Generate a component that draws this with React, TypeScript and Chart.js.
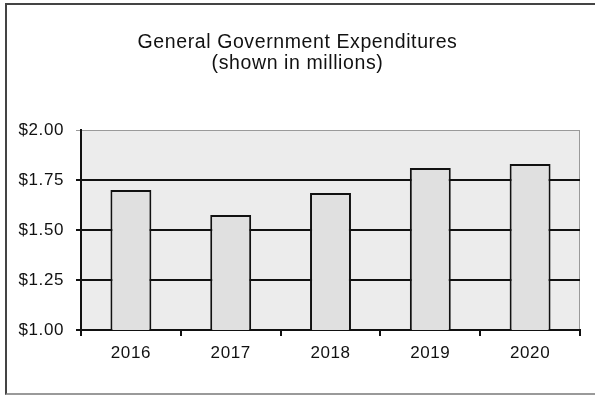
import React, { useEffect, useRef } from "react";
import { Chart, registerables } from "chart.js";

Chart.register(...registerables);

const categories = ["2016", "2017", "2018", "2019", "2020"];
const expenditures = [1.7, 1.575, 1.685, 1.81, 1.83];
const yTickValues = [1.0, 1.25, 1.5, 1.75, 2.0];
const titleLines = ["General Government Expenditures", "(shown in millions)"];

const FONT = "'Liberation Sans', Arial, sans-serif";

const plotBackground = {
  id: "plotBackground",
  beforeDraw(chart: any) {
    const { ctx, chartArea } = chart;
    if (!chartArea) return;
    const { left, top, right, bottom } = chartArea;
    ctx.save();
    ctx.fillStyle = "#ececec";
    ctx.fillRect(left, top, right - left, bottom - top);
    ctx.strokeStyle = "#9a9a9a";
    ctx.lineWidth = 1;
    ctx.beginPath();
    ctx.moveTo(right - 0.5, top);
    ctx.lineTo(right - 0.5, bottom);
    ctx.stroke();
    ctx.restore();
    // slightly wider letter spacing, like the scanned original
    (ctx as any).letterSpacing = "0.6px";
  },
};

export default function App() {
  const canvasRef = useRef<HTMLCanvasElement | null>(null);

  useEffect(() => {
    if (!canvasRef.current) return;
    const chart = new Chart(canvasRef.current, {
      type: "bar",
      data: {
        labels: categories,
        datasets: [
          {
            data: expenditures,
            backgroundColor: "#e0e0e0",
            borderColor: "#111111",
            borderWidth: 2,
            barPercentage: 0.41,
            categoryPercentage: 1,
          },
        ],
      },
      options: {
        animation: false,
        responsive: false,
        layout: { padding: { left: 15, right: 15, top: 0, bottom: 0 } },
        plugins: {
          legend: { display: false },
          tooltip: { enabled: false },
          title: {
            display: true,
            text: titleLines,
            color: "#111111",
            font: { family: FONT, size: 19.5, weight: "normal", lineHeight: 1.08 },
            padding: { top: 32.5, bottom: 55.4 },
          },
        },
        scales: {
          x: {
            offset: true,
            grid: {
              offset: true,
              drawOnChartArea: false,
              drawTicks: true,
              tickLength: 6,
              color: "#111111",
              lineWidth: 2,
            },
            border: { color: "#111111", width: 2 },
            ticks: {
              color: "#111111",
              font: { family: FONT, size: 17 },
              padding: 7,
              maxRotation: 0,
            },
            afterFit(scale: any) {
              scale.height = 66;
            },
          },
          y: {
            min: 1,
            max: 2,
            afterBuildTicks(scale: any) {
              scale.ticks = yTickValues.map((v) => ({ value: v }));
            },
            grid: {
              color: (ctx: any) => (ctx.tick && ctx.tick.value === 2 ? "#9a9a9a" : "#111111"),
              lineWidth: (ctx: any) => (ctx.tick && ctx.tick.value === 2 ? 1 : 2),
              tickLength: 5,
            },
            border: { color: "#111111", width: 2 },
            ticks: {
              color: "#111111",
              font: { family: FONT, size: 17 },
              padding: 12,
              callback: (v: any) => "$" + Number(v).toFixed(2),
            },
            afterFit(scale: any) {
              scale.width = 66;
            },
          },
        },
      },
      plugins: [plotBackground],
    } as any);
    return () => chart.destroy();
  }, []);

  return (
    <div
      style={{
        position: "fixed",
        left: 0,
        top: 0,
        width: 595,
        height: 396,
        background: "#ffffff",
        overflow: "hidden",
      }}
    >
      <canvas ref={canvasRef} width={595} height={396} style={{ position: "absolute", left: 0, top: 0 }} />
      <div
        style={{
          position: "absolute",
          left: 5,
          top: 3,
          width: 640,
          height: 388,
          borderLeft: "2px solid #444",
          borderTop: "2px solid #444",
          borderBottom: "2px solid #9a9a9a",
          pointerEvents: "none",
        }}
      />
    </div>
  );
}
